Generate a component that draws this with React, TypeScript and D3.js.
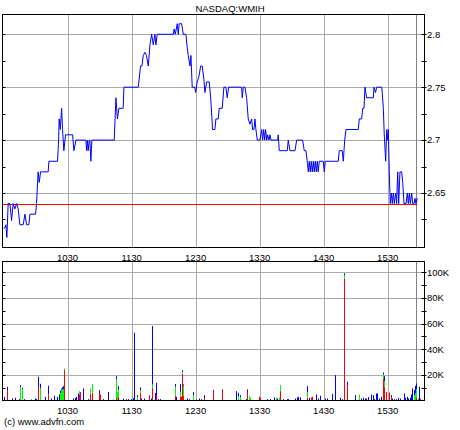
import React from "react";
import * as d3 from "d3";

// minutes after 09:30
const priceTimes = [
  0, 1.2, 2.2, 3.1, 4.3, 5.9, 7.5, 9.0, 10.6, 12.2, 13.7, 15.3, 18.4, 20.0, 21.6, 23.7, 24.7, 30.0, 30.9, 32.4,
  33.4, 34.7, 41.8, 42.5, 50.6, 51.6, 52.1, 53.1, 54.4, 55.3, 56.5, 58.1, 64.7, 65.9, 67.8, 77.2, 77.8, 78.6, 79.3, 80.3,
  80.9, 81.8, 82.8, 103.7, 105.3, 106.7, 108.1, 112.1, 112.8, 126.2, 128.4, 129.7, 130.9, 132.5, 133.9, 135.6, 137.2, 138.8, 140.3, 141.8,
  142.8, 144.0, 159.0, 159.9, 160.9, 162.8, 163.7, 164.6, 166.9, 168.4, 170.9, 171.8, 173.1, 174.7, 175.6, 176.8, 179.3, 180.0, 181.5, 183.1,
  184.7, 186.2, 187.8, 188.7, 190.3, 192.7, 194.1, 195.9, 198.1, 199.0, 201.2, 202.1, 204.9, 206.5, 208.4, 209.6, 210.9, 223.1, 223.7, 224.6,
  226.2, 227.8, 229.3, 230.9, 232.5, 233.4, 234.7, 235.6, 236.5, 237.8, 240.3, 241.9, 242.8, 243.8, 244.7, 245.6, 246.6, 247.5, 248.7, 249.7,
  250.6, 256.9, 257.4, 258.4, 265.9, 266.8, 268.4, 273.1, 274.7, 280.3, 281.8, 283.4, 284.6, 285.6, 286.5, 287.4, 288.4, 289.3, 290.3, 291.2,
  292.1, 293.1, 294.0, 294.9, 295.9, 299.6, 300.6, 301.5, 313.7, 314.6, 317.4, 318.4, 319.7, 320.9, 332.4, 333.4, 335.6, 336.6, 337.8, 338.7,
  340.3, 346.5, 347.2, 348.6, 349.7, 354.4, 354.9, 355.9, 356.8, 358.1, 359.1, 360.0, 360.6, 361.5, 362.4, 363.4, 364.3, 365.3, 366.2, 367.5,
  368.4, 369.4, 370.3, 371.5, 373.1, 374.1, 375.3, 377.2, 378.4, 379.3, 380.3, 381.2, 382.5, 383.4, 384.7, 385.6, 386.5, 387.8,
];
const priceValues = [
  2.617, 2.617, 2.62, 2.608, 2.64, 2.64, 2.624, 2.64, 2.635, 2.64, 2.635, 2.62, 2.62, 2.63, 2.62, 2.62, 2.63, 2.63, 2.64, 2.67,
  2.66, 2.67, 2.67, 2.68, 2.68, 2.7, 2.72, 2.71, 2.73, 2.71, 2.69, 2.705, 2.705, 2.69, 2.7, 2.7, 2.69, 2.7, 2.69, 2.7,
  2.7, 2.68, 2.7, 2.7, 2.74, 2.72, 2.73, 2.73, 2.75, 2.75, 2.77, 2.77, 2.78, 2.783, 2.78, 2.77, 2.79, 2.8, 2.79, 2.8,
  2.79, 2.8, 2.8, 2.805, 2.8, 2.81, 2.8, 2.81, 2.81, 2.8, 2.8, 2.79, 2.78, 2.77, 2.78, 2.75, 2.75, 2.745, 2.755, 2.76,
  2.77, 2.77, 2.757, 2.745, 2.755, 2.755, 2.74, 2.71, 2.71, 2.72, 2.72, 2.73, 2.73, 2.75, 2.75, 2.74, 2.75, 2.75, 2.74, 2.75,
  2.75, 2.74, 2.72, 2.715, 2.72, 2.71, 2.71, 2.72, 2.71, 2.7, 2.7, 2.71, 2.7, 2.71, 2.7, 2.71, 2.7, 2.705, 2.7, 2.705,
  2.7, 2.7, 2.705, 2.69, 2.69, 2.7, 2.69, 2.69, 2.7, 2.7, 2.69, 2.69, 2.68, 2.67, 2.68, 2.67, 2.68, 2.67, 2.68, 2.67,
  2.68, 2.67, 2.68, 2.67, 2.68, 2.68, 2.67, 2.68, 2.68, 2.69, 2.69, 2.68, 2.7, 2.71, 2.71, 2.72, 2.72, 2.73, 2.73, 2.75,
  2.74, 2.74, 2.75, 2.745, 2.75, 2.75, 2.745, 2.73, 2.705, 2.68, 2.71, 2.7, 2.71, 2.67, 2.64, 2.65, 2.64, 2.65, 2.64, 2.65,
  2.64, 2.67, 2.64, 2.67, 2.67, 2.66, 2.64, 2.64, 2.65, 2.64, 2.65, 2.64, 2.65, 2.64, 2.64, 2.645, 2.64, 2.645,
];
const prevClose = 2.64;
const nowMinute = 387;

// volume (thousands) per minute, split by trade type
const volTimes = [
  0, 3, 8, 11, 14, 15, 17, 19, 26, 29, 30, 32, 34, 39, 42, 44, 47, 50, 52, 53,
  54, 55, 56, 57, 65, 67, 68, 70, 71, 72, 74, 79, 81, 83, 89, 90, 93, 98, 103, 105,
  106, 107, 112, 115, 117, 119, 121, 122, 125, 128, 129, 132, 136, 138, 139, 142, 143, 145, 147, 161,
  162, 165, 166, 167, 168, 172, 174, 178, 180, 183, 185, 188, 196, 205, 218, 220, 222, 227, 228, 230,
  231, 239, 240, 247, 250, 253, 255, 256, 258, 259, 262, 266, 267, 273, 275, 276, 278, 284, 286, 288,
  289, 293, 295, 297, 301, 303, 308, 311, 315, 317, 319, 322, 329, 333, 335, 337, 339, 340, 342, 344,
  346, 347, 349, 350, 352, 354, 356, 357, 358, 361, 363, 364, 366, 368, 370, 372, 375, 376, 378, 379,
  381, 382, 383, 385, 386, 387, 388, 389, 390,
];
const volDown = [
  0, 8.3, 0, 0, 0, 0, 0, 0, 0, 0, 0, 10.9, 0, 0, 4.9, 0, 0, 0, 0, 0,
  0, 0, 0, 23.9, 0, 0, 0, 0, 4.9, 6.8, 0, 0, 5.7, 6.5, 5, 4.9, 0, 0, 0, 2.3,
  0, 3.1, 0, 0, 0, 0, 0, 0, 0, 6, 0, 0, 4.4, 0, 10.1, 0, 3.9, 0, 0, 3.9,
  0, 3.1, 3.4, 21.3, 3.9, 0, 0, 0, 0, 0, 0, 2.3, 7, 7.5, 0, 0, 0, 0, 6.2, 0,
  0, 3.1, 2.3, 0, 0, 0, 0, 0, 0, 7.5, 0, 0, 0, 0, 0, 0, 0, 2.3, 0, 2.6,
  3.1, 0, 0, 0, 0, 0, 0, 0, 0, 0, 95.2, 12.2, 0, 0, 0, 0, 0, 0, 0, 0,
  0, 0, 0, 0, 0, 0, 17.4, 10.9, 6.8, 6.5, 2.6, 0, 0, 0, 0, 0, 0, 0, 0, 0,
  0, 0, 0, 0, 0, 2.6, 1.2, 0, 1.8,
];
const volUp = [
  0, 0, 0, 0, 0, 10.9, 9, 0, 0, 0, 0, 0, 9.6, 0, 0, 0, 0, 0, 0, 6,
  8.5, 9, 9, 1.3, 0, 0, 0, 0, 2.6, 0, 0, 0, 3.9, 6.5, 0, 0, 0, 0, 1.3, 14.5,
  7, 5.7, 0, 0, 0, 0, 0, 0, 3, 2.4, 0, 0, 0, 0, 2.6, 0, 0, 0, 0, 7,
  0, 3.9, 0, 1.3, 7.8, 0, 0, 4.4, 0, 0, 0, 0, 0, 0, 0, 3.6, 3.1, 0, 0, 3.9,
  2.3, 0, 0, 0, 0, 0, 2.3, 0, 2.6, 4.7, 0, 0, 0, 0, 0, 0, 0, 4.2, 0, 0,
  0, 0, 0, 0, 0, 0, 0, 0, 0, 0, 2.6, 0, 0, 4.9, 0, 0, 0, 0, 0, 0,
  0, 0, 0, 0, 0, 0, 3, 4.4, 0, 0, 0, 0, 0, 0, 0, 0, 0, 0, 0, 0,
  0, 0, 0, 4.3, 5.7, 6.5, 1.1, 0, 0,
];
const volFlat = [
  3.1, 2.6, 1.8, 2.3, 1.3, 1.3, 1.1, 1.3, 1, 1.8, 1.3, 7.8, 3.6, 3.1, 6.8, 1.8, 3.9, 3, 5, 2,
  1, 1.4, 2.4, 0, 1.8, 2.3, 3.1, 5.7, 0, 0, 9.6, 1.3, 0, 0, 3.3, 0, 1.3, 6.8, 0, 2.4,
  0, 2.6, 1.8, 1.3, 1.3, 1.3, 2, 52.9, 1.4, 2, 1.8, 1.8, 0, 1.8, 45.4, 6, 10.1, 1.3, 1.3, 2.1,
  3.1, 6, 0, 1.3, 1, 1.8, 1.3, 2.3, 1, 1.8, 1.3, 2.1, 1.3, 1.3, 7.5, 2.6, 1.3, 1.3, 2.6, 0,
  0, 0, 0, 1.3, 1.3, 2.6, 0, 1.8, 0, 0, 1.3, 1.3, 1.3, 1.8, 2.6, 3.1, 2.6, 4.9, 2.3, 0,
  0, 4.9, 1.8, 3.9, 1.8, 1.8, 5.4, 20, 2.3, 1.3, 1.3, 2.6, 4.4, 0, 1.8, 2.3, 1.8, 1.8, 3, 4.9,
  4.4, 1.3, 5.7, 5.7, 1.8, 3.1, 1.6, 3.9, 0, 0, 1.8, 1.8, 1.3, 1.3, 2.3, 1.8, 5.7, 2.3, 3.1, 1.8,
  2.3, 4.9, 9.6, 4, 6, 4.4, 0, 10.9, 0,
];

const hourTicks = [60, 120, 180, 240, 300, 360];
const hourLabels = ["1030", "1130", "1230", "1330", "1430", "1530"];
const priceTicks = [2.65, 2.7, 2.75, 2.8];
const priceLabels = ["2.65", "2.7", "2.75", "2.8"];
const priceMinorTicks = [2.625, 2.65, 2.675, 2.7, 2.725, 2.75, 2.775, 2.8];
const volTicks = [20, 40, 60, 80, 100];
const volLabels = ["20K", "40K", "60K", "80K", "100K"];
const volMinorTicks = [10, 20, 30, 40, 50, 60, 70, 80, 90, 100];

const FONT = "'Liberation Sans', Arial, sans-serif";
const FS = 9.5;

export default function App() {
  const L = 2.5, R = 424.5;
  const pT = 14.5, pB = 247.5;
  const vT = 261.5, vB = 400.5;
  const x = d3.scaleLinear().domain([-1, 394.5]).range([L, R]);
  const y = d3.scaleLinear().domain([2.5985, 2.8187]).range([pB, pT]);
  const yv = d3.scaleLinear().domain([0, 108.3]).range([400.8, vT]);

  const pts = priceTimes.map((t, i) => [t, priceValues[i]] as [number, number]);
  const line = d3.line<[number, number]>().x((d) => x(d[0])).y((d) => y(d[1]));

  const volRows = volTimes.map((t, i) => ({ t, down: volDown[i], up: volUp[i], flat: volFlat[i] }));
  const stack = d3.stack<any>().keys(["down", "up", "flat"])(volRows);
  const colors: Record<string, string> = { down: "#ff0000", up: "#00ff00", flat: "#0000ff" };

  const grid = "#aaaaaa";
  const nowX = Math.round(x(nowMinute)) + 0.5;

  return (
    <svg width={460} height={430} style={{ position: "absolute", left: 0, top: 0, background: "#fff" }}
      fontFamily={FONT} fontSize={FS}>
      <rect x={0} y={0} width={460} height={430} fill="#fff" />
      <text x={230} y={11.5} textAnchor="middle">NASDAQ:WMIH</text>

      {/* price panel grid */}
      {hourTicks.map((h) => (
        <line key={"pv" + h} x1={Math.round(x(h)) + 0.5} x2={Math.round(x(h)) + 0.5} y1={pT} y2={pB} stroke={grid} />
      ))}
      {priceTicks.map((p) => (
        <line key={"ph" + p} x1={L} x2={R} y1={Math.round(y(p)) + 0.5} y2={Math.round(y(p)) + 0.5} stroke={grid} />
      ))}
      <line x1={nowX} x2={nowX} y1={pT} y2={pB} stroke="#808080" />
      <line x1={L} x2={x(priceTimes[priceTimes.length - 1])} y1={Math.round(y(prevClose)) + 0.5} y2={Math.round(y(prevClose)) + 0.5} stroke="#ff0000" />
      <path d={line(pts) || ""} fill="none" stroke="#0000ff" strokeWidth={1} />
      <rect x={L} y={pT} width={R - L} height={pB - pT} fill="none" stroke="#000" />
      {priceMinorTicks.map((p) => (
        <g key={"pt" + p}>
          <line x1={L} x2={L + 3} y1={Math.round(y(p)) + 0.5} y2={Math.round(y(p)) + 0.5} stroke="#000" />
          <line x1={R - 3} x2={R + 2} y1={Math.round(y(p)) + 0.5} y2={Math.round(y(p)) + 0.5} stroke="#000" />
        </g>
      ))}
      {priceTicks.map((p, i) => (
        <text key={"pl" + p} x={427} y={y(p)} dy="0.35em">{priceLabels[i]}</text>
      ))}
      {hourTicks.map((h, i) => (
        <text key={"xl1" + h} x={x(h)} y={260.5} textAnchor="middle">{hourLabels[i]}</text>
      ))}

      {/* volume panel */}
      {hourTicks.map((h) => (
        <line key={"vv" + h} x1={Math.round(x(h)) + 0.5} x2={Math.round(x(h)) + 0.5} y1={vT} y2={vB} stroke={grid} />
      ))}
      {volTicks.map((v) => (
        <line key={"vh" + v} x1={L} x2={R} y1={Math.round(yv(v)) + 0.5} y2={Math.round(yv(v)) + 0.5} stroke={grid} />
      ))}
      <line x1={nowX} x2={nowX} y1={vT} y2={vB} stroke="#808080" />
      {stack.map((s) => (
        <g key={s.key} fill={colors[s.key]}>
          {s.map((d, i) => (
            d[1] > d[0] ? (
              <rect key={i} x={Math.round(x(d.data.t))} width={1} y={yv(d[1])} height={yv(d[0]) - yv(d[1])} />
            ) : null
          ))}
        </g>
      ))}
      <rect x={L} y={vT} width={R - L} height={vB - vT} fill="none" stroke="#000" />
      {volMinorTicks.map((v) => (
        <g key={"vt" + v}>
          <line x1={L} x2={L + 3} y1={Math.round(yv(v)) + 0.5} y2={Math.round(yv(v)) + 0.5} stroke="#000" />
          <line x1={R - 3} x2={R + 2} y1={Math.round(yv(v)) + 0.5} y2={Math.round(yv(v)) + 0.5} stroke="#000" />
        </g>
      ))}
      {volTicks.map((v, i) => (
        <text key={"vl" + v} x={427} y={yv(v)} dy="0.35em">{volLabels[i]}</text>
      ))}
      {hourTicks.map((h, i) => (
        <text key={"xl2" + h} x={x(h)} y={413.5} textAnchor="middle">{hourLabels[i]}</text>
      ))}
      <text x={4} y={425} fontSize={FS}>(c) www.advfn.com</text>
    </svg>
  );
}
